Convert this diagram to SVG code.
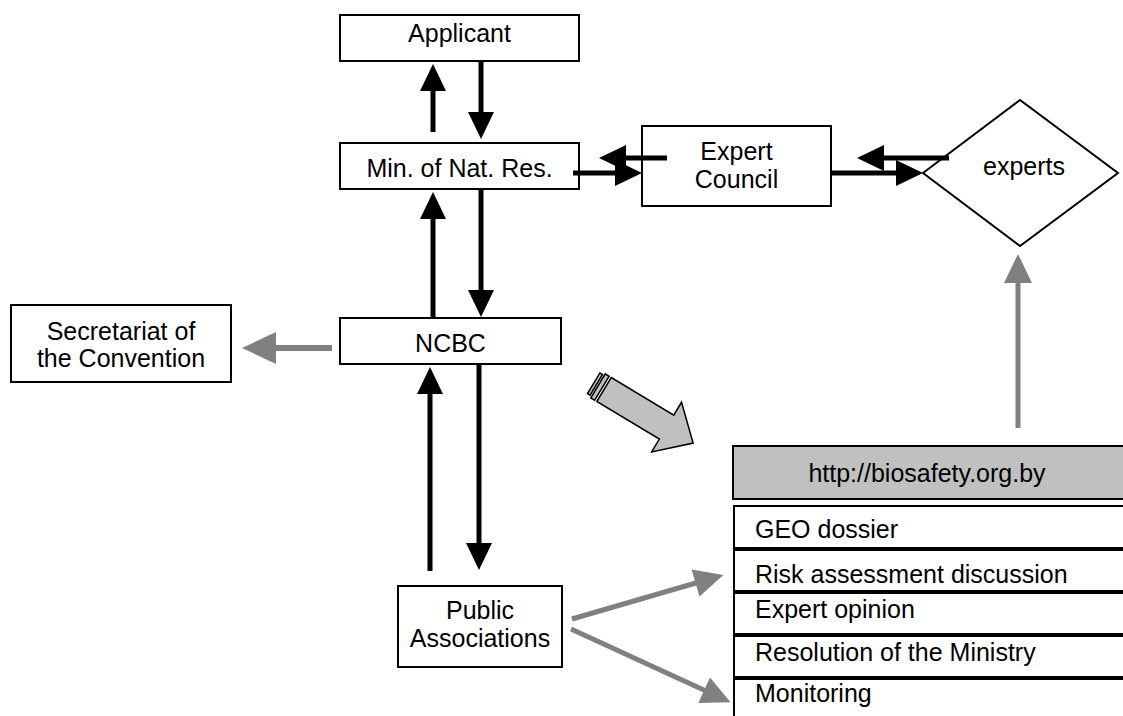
<svg xmlns="http://www.w3.org/2000/svg" width="1123" height="716" viewBox="0 0 1123 716">
<style>
  .box { fill: #fff; stroke: #000; stroke-width: 2; }
  .url { fill: #c0c0c0; stroke: #000; stroke-width: 2; }
  .t { font-family: "Liberation Sans", Arial, sans-serif; font-size: 25px; fill: #000; }
  .c { text-anchor: middle; }
  .blk { stroke: #000; stroke-width: 5; fill: none; marker-end: url(#hb); }
  .gry { stroke: #808080; stroke-width: 5; fill: none; marker-end: url(#hg); }
  .gryw { stroke: #808080; stroke-width: 6; fill: none; marker-end: url(#hgl); }
  .blockarrow { fill: #c0c0c0; stroke: #000; stroke-width: 1.5; }
</style>
<defs>
  <marker id="hb" markerUnits="userSpaceOnUse" markerWidth="28" markerHeight="26" refX="2" refY="13" orient="auto" overflow="visible">
    <path d="M0,0 L27,13 L0,26 z" fill="#000"/>
  </marker>
  <marker id="hg" markerUnits="userSpaceOnUse" markerWidth="30" markerHeight="28" refX="2" refY="14" orient="auto" overflow="visible">
    <path d="M0,0 L29,14 L0,28 z" fill="#808080"/>
  </marker>
  <marker id="hgl" markerUnits="userSpaceOnUse" markerWidth="35" markerHeight="32" refX="2" refY="16" orient="auto" overflow="visible">
    <path d="M0,0 L34,16 L0,32 z" fill="#808080"/>
  </marker>
</defs>

<g id="applicant">
  <rect class="box" x="340" y="15" width="239" height="46"/>
  <text class="t c" x="459.5" y="42">Applicant</text>
</g>
<g id="ministry">
  <rect class="box" x="340" y="143" width="239" height="46"/>
  <text class="t c" x="459.5" y="177">Min. of Nat. Res.</text>
</g>
<g id="expert-council">
  <rect class="box" x="642" y="126" width="189" height="80"/>
  <text class="t c" x="736.5" y="160">Expert</text>
  <text class="t c" x="736.5" y="188">Council</text>
</g>
<g id="experts">
  <polygon points="923,173 1020,100 1118,173 1020,246" fill="#fff" stroke="#000" stroke-width="2"/>
  <text class="t c" x="1024" y="175">experts</text>
</g>
<g id="secretariat">
  <rect class="box" x="11" y="305" width="220" height="77"/>
  <text class="t c" x="121" y="340">Secretariat of</text>
  <text class="t c" x="121" y="367">the Convention</text>
</g>
<g id="ncbc">
  <rect class="box" x="340" y="318" width="221" height="46"/>
  <text class="t c" x="450.5" y="352">NCBC</text>
</g>
<g id="public-associations">
  <rect class="box" x="398" y="586" width="164" height="81"/>
  <text class="t c" x="480" y="619">Public</text>
  <text class="t c" x="480" y="647">Associations</text>
</g>
<g id="website">
  <rect class="url" x="733" y="446" width="400" height="53"/>
  <text class="t c" x="927" y="482">http://biosafety.org.by</text>
  <rect class="box" x="734" y="506" width="400" height="42"/>
  <text class="t" x="755" y="538">GEO dossier</text>
  <rect class="box" x="734" y="550" width="400" height="41"/>
  <text class="t" x="755" y="583">Risk assessment discussion</text>
  <rect class="box" x="734" y="593" width="400" height="41"/>
  <text class="t" x="755" y="618">Expert opinion</text>
  <rect class="box" x="734" y="636" width="400" height="41"/>
  <text class="t" x="755" y="661">Resolution of the Ministry</text>
  <rect class="box" x="734" y="679" width="400" height="60"/>
  <text class="t" x="755" y="702">Monitoring</text>
</g>
<g id="block-arrow" transform="translate(604,389.5) rotate(31)">
  <polygon class="blockarrow" points="-12,-12 -9,-12 -9,12 -12,12"/>
  <polygon class="blockarrow" points="-7,-14 -2.5,-14 -2.5,14 -7,14"/>
  <polygon class="blockarrow" points="0,-14 73,-14 73,-29 104,0 73,29 73,14 0,14"/>
</g>

<g id="connectors">
  <line class="blk" x1="433" y1="132" x2="433" y2="89"/>
  <line class="blk" x1="481" y1="62" x2="481" y2="114"/>
  <line class="blk" x1="433" y1="317" x2="433" y2="217"/>
  <line class="blk" x1="481" y1="190" x2="481" y2="292"/>
  <line class="blk" x1="430" y1="571" x2="430" y2="392"/>
  <line class="blk" x1="479" y1="365" x2="479" y2="545"/>
  <line class="blk" x1="573" y1="173" x2="617" y2="173"/>
  <line class="blk" x1="667" y1="158" x2="624" y2="158"/>
  <line class="blk" x1="831" y1="173" x2="898" y2="173"/>
  <line class="blk" x1="949" y1="158" x2="882" y2="158"/>
  <line class="gryw" x1="332" y1="348" x2="274" y2="348"/>
  <line class="gry" x1="1018" y1="428" x2="1018" y2="281"/>
  <line class="gry" x1="572" y1="619" x2="697.5" y2="582.5"/>
  <line class="gry" x1="571" y1="629" x2="706" y2="691"/>
</g>
</svg>
